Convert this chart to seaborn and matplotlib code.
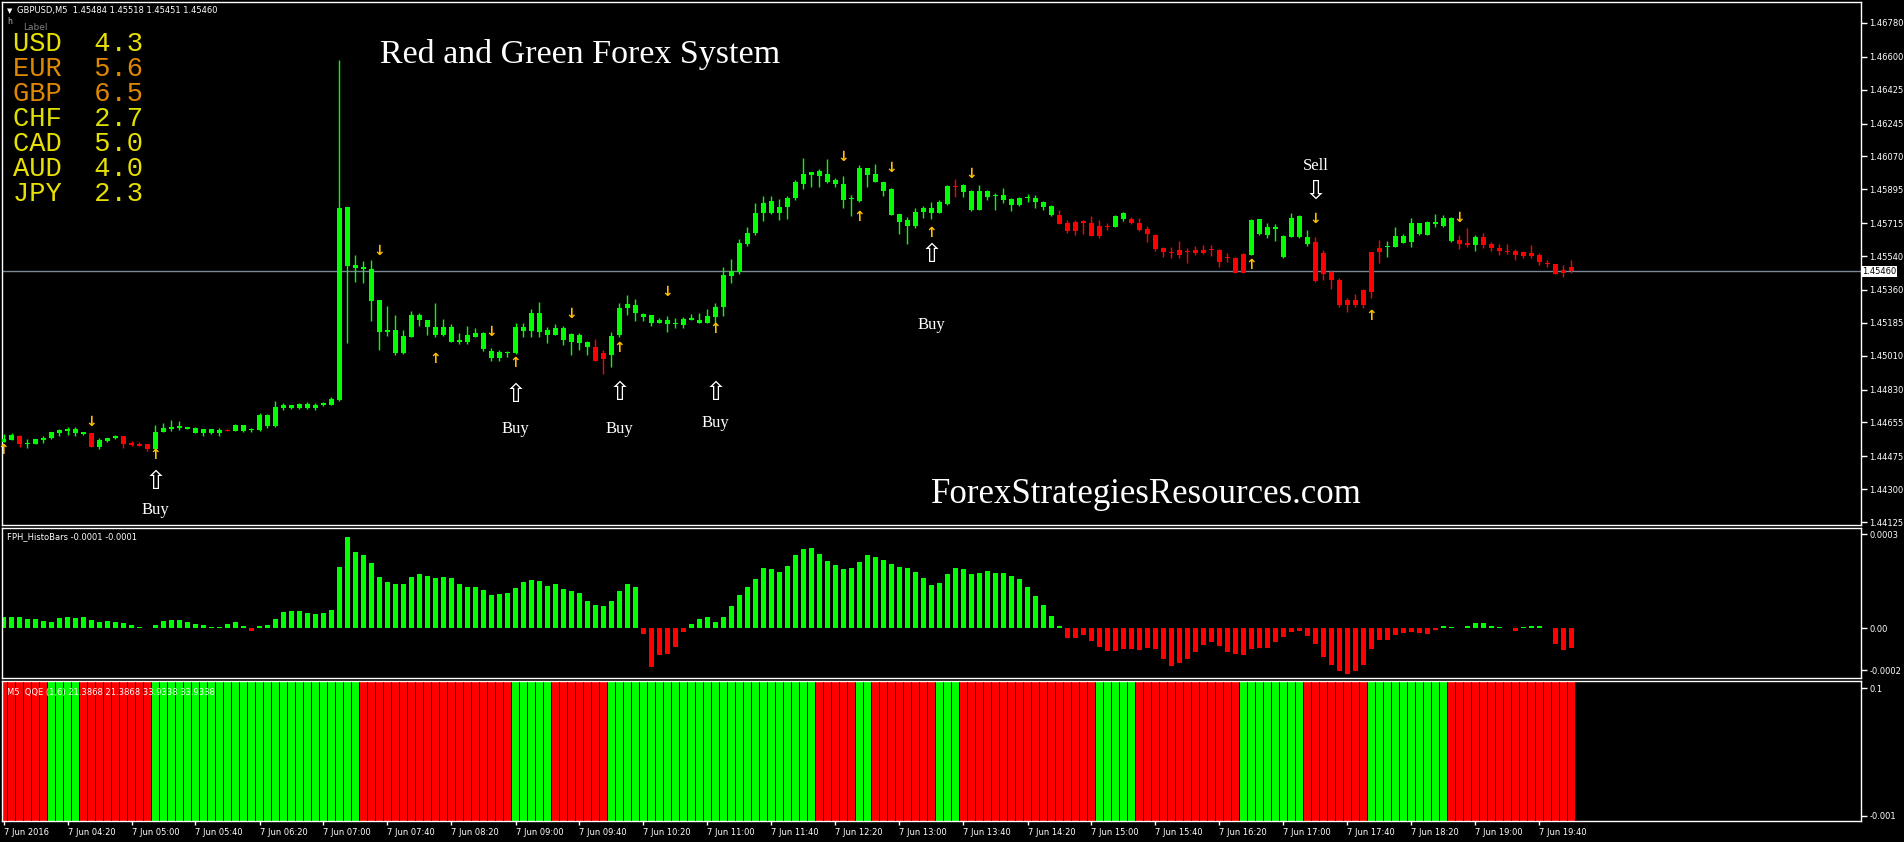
import numpy as np
import pandas as pd
import matplotlib
matplotlib.use("Agg")
import matplotlib.pyplot as plt
import matplotlib.transforms as mtransforms
import seaborn as sns

# ---------------- data (GBPUSD M5, 7 Jun 2016, bar 0 = 03:40) ----------------
opens = [
    1.44553, 1.44563, 1.44585, 1.44540, 1.44542, 1.44563, 1.44570, 1.44599, 1.44611, 1.44600,
    1.44595, 1.44599, 1.44526, 1.44556, 1.44570, 1.44583, 1.44547, 1.44540, 1.44540, 1.44514,
    1.44604, 1.44622, 1.44623, 1.44620, 1.44600, 1.44600, 1.44597, 1.44600, 1.44617, 1.44611,
    1.44608, 1.44617, 1.44617, 1.44638, 1.44638, 1.44730, 1.44734, 1.44732, 1.44732, 1.44732,
    1.44746, 1.44748, 1.44775, 1.45799, 1.45493, 1.45484, 1.45472, 1.45307, 1.45138, 1.45147,
    1.45023, 1.45111, 1.45225, 1.45200, 1.45165, 1.45120, 1.45165, 1.45085, 1.45085, 1.45107,
    1.45129, 1.45037, 1.44997, 1.45023, 1.45023, 1.45142, 1.45142, 1.45236, 1.45120, 1.45120,
    1.45156, 1.45125, 1.45120, 1.45085, 1.45055, 1.45023, 1.45014, 1.45120, 1.45262, 1.45280,
    1.45232, 1.45227, 1.45186, 1.45200, 1.45179, 1.45174, 1.45200, 1.45186, 1.45182, 1.45214,
    1.45271, 1.45436, 1.45457, 1.45604, 1.45661, 1.45768, 1.45771, 1.45803, 1.45799, 1.45849,
    1.45924, 1.45971, 1.45966, 1.45977, 1.45945, 1.45924, 1.45843, 1.45835, 1.45971, 1.45977,
    1.45932, 1.45897, 1.45764, 1.45702, 1.45700, 1.45777, 1.45771, 1.45771, 1.45817, 1.45913,
    1.45883, 1.45887, 1.45785, 1.45887, 1.45860, 1.45866, 1.45843, 1.45812, 1.45848, 1.45848,
    1.45825, 1.45807, 1.45759, 1.45714, 1.45674, 1.45729, 1.45714, 1.45647, 1.45697, 1.45697,
    1.45736, 1.45736, 1.45714, 1.45683, 1.45652, 1.45581, 1.45563, 1.45572, 1.45568, 1.45572,
    1.45554, 1.45571, 1.45572, 1.45537, 1.45531, 1.45452, 1.45546, 1.45658, 1.45693, 1.45683,
    1.45533, 1.45640, 1.45640, 1.45639, 1.45614, 1.45558, 1.45457, 1.45413, 1.45277, 1.45307,
    1.45280, 1.45351, 1.45563, 1.45587, 1.45590, 1.45612, 1.45617, 1.45656, 1.45653, 1.45711,
    1.45702, 1.45743, 1.45625, 1.45612, 1.45599, 1.45641, 1.45604, 1.45585, 1.45564, 1.45567,
    1.45564, 1.45558, 1.45546, 1.45505, 1.45498, 1.45466, 1.45484,
]
highs = [
    1.44594, 1.44600, 1.44588, 1.44567, 1.44569, 1.44581, 1.44606, 1.44622, 1.44629, 1.44632,
    1.44606, 1.44600, 1.44570, 1.44574, 1.44588, 1.44585, 1.44554, 1.44549, 1.44542, 1.44641,
    1.44652, 1.44668, 1.44663, 1.44632, 1.44632, 1.44622, 1.44622, 1.44623, 1.44620, 1.44645,
    1.44643, 1.44623, 1.44703, 1.44702, 1.44769, 1.44759, 1.44748, 1.44759, 1.44764, 1.44759,
    1.44764, 1.44790, 1.46583, 1.45803, 1.45546, 1.45516, 1.45520, 1.45307, 1.45275, 1.45227,
    1.45147, 1.45248, 1.45236, 1.45200, 1.45289, 1.45204, 1.45180, 1.45129, 1.45170, 1.45156,
    1.45134, 1.45050, 1.45041, 1.45037, 1.45183, 1.45183, 1.45257, 1.45293, 1.45161, 1.45180,
    1.45170, 1.45132, 1.45132, 1.45089, 1.45098, 1.45041, 1.45134, 1.45289, 1.45333, 1.45311,
    1.45236, 1.45227, 1.45211, 1.45223, 1.45209, 1.45218, 1.45232, 1.45236, 1.45257, 1.45289,
    1.45480, 1.45523, 1.45629, 1.45697, 1.45821, 1.45860, 1.45860, 1.45842, 1.45860, 1.45946,
    1.46060, 1.45989, 1.46002, 1.46055, 1.45954, 1.45966, 1.45866, 1.46025, 1.46011, 1.46030,
    1.45936, 1.45901, 1.45764, 1.45746, 1.45794, 1.45807, 1.45830, 1.45839, 1.45918, 1.45950,
    1.45924, 1.45892, 1.45918, 1.45892, 1.45874, 1.45901, 1.45848, 1.45856, 1.45871, 1.45866,
    1.45835, 1.45812, 1.45785, 1.45732, 1.45732, 1.45732, 1.45753, 1.45732, 1.45714, 1.45759,
    1.45777, 1.45746, 1.45741, 1.45700, 1.45658, 1.45590, 1.45590, 1.45621, 1.45581, 1.45594,
    1.45599, 1.45599, 1.45576, 1.45555, 1.45537, 1.45558, 1.45736, 1.45736, 1.45714, 1.45711,
    1.45653, 1.45768, 1.45756, 1.45680, 1.45644, 1.45572, 1.45466, 1.45422, 1.45316, 1.45338,
    1.45363, 1.45563, 1.45626, 1.45622, 1.45693, 1.45658, 1.45741, 1.45718, 1.45727, 1.45764,
    1.45759, 1.45746, 1.45653, 1.45691, 1.45653, 1.45665, 1.45617, 1.45605, 1.45605, 1.45578,
    1.45569, 1.45599, 1.45555, 1.45520, 1.45498, 1.45493, 1.45518,
]
lows = [
    1.44549, 1.44562, 1.44524, 1.44521, 1.44540, 1.44547, 1.44567, 1.44585, 1.44590, 1.44585,
    1.44590, 1.44522, 1.44515, 1.44551, 1.44567, 1.44521, 1.44530, 1.44530, 1.44505, 1.44512,
    1.44602, 1.44609, 1.44617, 1.44618, 1.44599, 1.44585, 1.44595, 1.44585, 1.44608, 1.44609,
    1.44604, 1.44604, 1.44611, 1.44627, 1.44632, 1.44721, 1.44728, 1.44727, 1.44727, 1.44721,
    1.44743, 1.44745, 1.44770, 1.45076, 1.45404, 1.45395, 1.45197, 1.45041, 1.45115, 1.45014,
    1.45019, 1.45111, 1.45170, 1.45120, 1.45110, 1.45115, 1.45085, 1.45073, 1.45073, 1.45107,
    1.45037, 1.44984, 1.44984, 1.45002, 1.45019, 1.45107, 1.45107, 1.45107, 1.45080, 1.45120,
    1.45068, 1.45014, 1.45041, 1.45014, 1.44979, 1.44912, 1.44952, 1.45111, 1.45227, 1.45192,
    1.45192, 1.45168, 1.45182, 1.45138, 1.45156, 1.45156, 1.45200, 1.45182, 1.45182, 1.45170,
    1.45221, 1.45395, 1.45442, 1.45594, 1.45652, 1.45727, 1.45764, 1.45732, 1.45737, 1.45839,
    1.45895, 1.45906, 1.45910, 1.45927, 1.45906, 1.45794, 1.45753, 1.45830, 1.45910, 1.45932,
    1.45862, 1.45759, 1.45658, 1.45605, 1.45688, 1.45741, 1.45736, 1.45768, 1.45812, 1.45856,
    1.45856, 1.45780, 1.45785, 1.45839, 1.45785, 1.45821, 1.45780, 1.45807, 1.45825, 1.45794,
    1.45785, 1.45755, 1.45711, 1.45665, 1.45653, 1.45658, 1.45647, 1.45635, 1.45679, 1.45693,
    1.45729, 1.45711, 1.45675, 1.45617, 1.45568, 1.45534, 1.45528, 1.45528, 1.45502, 1.45546,
    1.45551, 1.45542, 1.45484, 1.45510, 1.45448, 1.45448, 1.45546, 1.45653, 1.45635, 1.45622,
    1.45529, 1.45640, 1.45635, 1.45591, 1.45404, 1.45413, 1.45363, 1.45271, 1.45240, 1.45271,
    1.45263, 1.45316, 1.45502, 1.45533, 1.45587, 1.45612, 1.45587, 1.45653, 1.45653, 1.45697,
    1.45697, 1.45617, 1.45578, 1.45590, 1.45569, 1.45585, 1.45569, 1.45546, 1.45550, 1.45521,
    1.45530, 1.45530, 1.45493, 1.45484, 1.45445, 1.45431, 1.45451,
]
closes = [
    1.44567, 1.44588, 1.44540, 1.44545, 1.44567, 1.44574, 1.44604, 1.44617, 1.44622, 1.44622,
    1.44604, 1.44526, 1.44563, 1.44572, 1.44585, 1.44542, 1.44537, 1.44531, 1.44514, 1.44604,
    1.44625, 1.44632, 1.44638, 1.44631, 1.44625, 1.44620, 1.44620, 1.44617, 1.44611, 1.44641,
    1.44641, 1.44622, 1.44695, 1.44695, 1.44737, 1.44748, 1.44746, 1.44753, 1.44753, 1.44748,
    1.44757, 1.44780, 1.45796, 1.45489, 1.45479, 1.45470, 1.45303, 1.45138, 1.45147, 1.45023,
    1.45115, 1.45225, 1.45200, 1.45165, 1.45120, 1.45165, 1.45085, 1.45094, 1.45120, 1.45129,
    1.45044, 1.44997, 1.45032, 1.45032, 1.45161, 1.45161, 1.45236, 1.45138, 1.45147, 1.45156,
    1.45091, 1.45085, 1.45080, 1.45055, 1.44984, 1.44991, 1.45116, 1.45262, 1.45285, 1.45236,
    1.45218, 1.45186, 1.45200, 1.45179, 1.45186, 1.45204, 1.45209, 1.45200, 1.45221, 1.45271,
    1.45440, 1.45462, 1.45608, 1.45661, 1.45768, 1.45821, 1.45833, 1.45771, 1.45849, 1.45934,
    1.45977, 1.45989, 1.45995, 1.45932, 1.45924, 1.45839, 1.45850, 1.46007, 1.46011, 1.45932,
    1.45888, 1.45759, 1.45723, 1.45732, 1.45773, 1.45794, 1.45794, 1.45830, 1.45913, 1.45906,
    1.45918, 1.45785, 1.45887, 1.45856, 1.45866, 1.45839, 1.45812, 1.45848, 1.45853, 1.45825,
    1.45803, 1.45759, 1.45711, 1.45674, 1.45723, 1.45714, 1.45647, 1.45700, 1.45700, 1.45753,
    1.45768, 1.45714, 1.45679, 1.45656, 1.45575, 1.45563, 1.45554, 1.45545, 1.45563, 1.45554,
    1.45572, 1.45580, 1.45510, 1.45528, 1.45452, 1.45551, 1.45732, 1.45736, 1.45653, 1.45697,
    1.45649, 1.45745, 1.45751, 1.45603, 1.45408, 1.45445, 1.45410, 1.45280, 1.45304, 1.45277,
    1.45360, 1.45563, 1.45585, 1.45594, 1.45647, 1.45647, 1.45714, 1.45714, 1.45722, 1.45722,
    1.45743, 1.45620, 1.45605, 1.45599, 1.45641, 1.45599, 1.45585, 1.45569, 1.45560, 1.45546,
    1.45541, 1.45541, 1.45511, 1.45497, 1.45445, 1.45452, 1.45460,
]
# candle colour from the Red/Green trend filter
candle_trend = list(
    "GGRGGGGGGG" "GRGGGRRRRG" "GGGGGGGGRG" "GGGGGGGGGG" "GGGGGGGGGG"
    "GGGGGGGGGG" "GGGGGGGGGG" "GGGGRRGGGG" "GGGGGGGGGG" "GGGGGGGGGG"
    "GGGGGGGGGG" "GGGGGGGGGR" "GGGGGGGGGG" "GGRRRRRRRG" "GRRRRRRRRR"
    "RRRRRRGGGG" "GGGGRRRRRR" "RRRGGGGGGG" "GGRRGRRRRR" "RRRRRRR"
)
# FPH_HistoBars values in millionths
hist_micro = [
    32, 32, 32, 26, 26, 20, 17, 29, 32, 29,
    32, 23, 17, 20, 17, 14, 8, 2, 1, 8,
    20, 23, 23, 17, 11, 8, 2, 2, 11, 17,
    5, -10, 5, 8, 26, 47, 50, 50, 44, 41,
    44, 53, 182, 272, 227, 218, 194, 152, 137, 131,
    131, 152, 161, 155, 149, 152, 149, 131, 122, 122,
    113, 98, 101, 104, 119, 137, 143, 140, 125, 131,
    116, 110, 104, 80, 68, 65, 80, 110, 131, 122,
    -18, -117, -82, -78, -58, -11, 12, 27, 33, 18,
    33, 66, 99, 123, 147, 180, 177, 168, 186, 219,
    237, 240, 222, 201, 189, 177, 180, 198, 219, 213,
    204, 192, 183, 180, 168, 150, 129, 135, 162, 180,
    177, 162, 165, 171, 165, 165, 156, 147, 123, 96,
    69, 36, 6, -30, -30, -21, -39, -57, -69, -69,
    -63, -63, -66, -60, -63, -93, -114, -105, -93, -72,
    -51, -42, -54, -72, -78, -81, -63, -60, -60, -42,
    -27, -12, -9, -24, -48, -87, -111, -129, -138, -129,
    -111, -63, -36, -36, -21, -15, -12, -15, -18, -6,
    6, 2, 0, 6, 15, 15, 6, 2, 1, -9,
    2, 6, 6, 1, -48, -66, -60,
]
# QQE state per bar
qqe_state = list(
    "RRRRRRGGGG" "RRRRRRRRRG" "GGGGGGGGGG" "GGGGGGGGGG" "GGGGGRRRRR"
    "RRRRRRRRRR" "RRRRGGGGGR" "RRRRRRGGGG" "GGGGGGGGGG" "GGGGGGGGGG"
    "GGRRRRRGGR" "RRRRRRRGGG" "RRRRRRRRRR" "RRRRRRRGGG" "GGRRRRRRRR"
    "RRRRRGGGGG" "GGGRRRRRRR" "RGGGGGGGGG" "GRRRRRRRRR" "RRRRRRR"
)
time_label_bars = [0, 8, 16, 24, 32, 40, 48, 56, 64, 72, 80, 88, 96, 104, 112,
                   120, 128, 136, 144, 152, 160, 168, 176, 184, 192]
time_labels = ["7 Jun 2016", "7 Jun 04:20", "7 Jun 05:00", "7 Jun 05:40", "7 Jun 06:20",
               "7 Jun 07:00", "7 Jun 07:40", "7 Jun 08:20", "7 Jun 09:00", "7 Jun 09:40",
               "7 Jun 10:20", "7 Jun 11:00", "7 Jun 11:40", "7 Jun 12:20", "7 Jun 13:00",
               "7 Jun 13:40", "7 Jun 14:20", "7 Jun 15:00", "7 Jun 15:40", "7 Jun 16:20",
               "7 Jun 17:00", "7 Jun 17:40", "7 Jun 18:20", "7 Jun 19:00", "7 Jun 19:40"]
price_ticks = [1.46780, 1.46600, 1.46425, 1.46245, 1.46070, 1.45895, 1.45715, 1.45540,
               1.45360, 1.45185, 1.45010, 1.44830, 1.44655, 1.44475, 1.44300, 1.44125]
last_price = 1.45460

# small signal arrows
up_sig_bars = [0, 19, 54, 64, 77, 89, 107, 116, 156, 171]
up_sig_price = [1.44508, 1.44482, 1.44993, 1.44970, 1.45050, 1.45150, 1.45746, 1.45665, 1.45495, 1.45222]
dn_sig_bars = [11, 47, 61, 71, 83, 105, 111, 121, 164, 182]
dn_sig_price = [1.44657, 1.45569, 1.45134, 1.45231, 1.45348, 1.46069, 1.46007, 1.45978, 1.45739, 1.45743]
# Buy / Sell annotations
buy_bars = [19, 64, 77, 89, 116]
buy_arrow_price = [1.44338, 1.44801, 1.44812, 1.44812, 1.45546]
buy_text_price = [1.44189, 1.44620, 1.44620, 1.44652, 1.45173]
sell_bars = [164]
sell_arrow_price = [1.45881]
sell_text_price = [1.46019]

currencies = ["USD", "EUR", "GBP", "CHF", "CAD", "AUD", "JPY"]
strength = [4.3, 5.6, 6.5, 2.7, 5.0, 4.0, 2.3]
currency_colors = ["#E8E000", "#E08800", "#E08800", "#E0E000", "#E8E000", "#E8E000", "#E8E000"]

# ---------------- style ----------------
sns.set_theme(style="dark")
plt.rcParams.update({
    "figure.facecolor": "black", "axes.facecolor": "black", "savefig.facecolor": "black",
    "axes.edgecolor": "white", "text.color": "white", "xtick.color": "white",
    "ytick.color": "white", "axes.grid": False, "axes.unicode_minus": False,
})
plt.rcParams["font.family"] = ["DejaVu Sans"]

GREEN, RED = "#00FF00", "#FF0000"
W, H, DPI = 1904, 842, 100
fig = plt.figure(figsize=(W / DPI, H / DPI), dpi=DPI)


def rect(x0, y0, x1, y1):
    return [x0 / W, 1 - y1 / H, (x1 - x0) / W, (y1 - y0) / H]


def ftext(x, y, s, **kw):
    fig.text(x / W, 1 - y / H, s, **kw)


ax = fig.add_axes(rect(2, 2, 1861, 525))
axh = fig.add_axes(rect(2, 528, 1861, 678))
axq = fig.add_axes(rect(2, 681, 1861, 821))
XL = (-0.1875, 232.1875)

n = len(opens)
xs = np.arange(n)
o = np.array(opens); c = np.array(closes); hi = np.array(highs); lo = np.array(lows)
ccol = [GREEN if t == "G" else RED for t in candle_trend]

# ---------------- main price panel ----------------
ax.axhline(last_price, color="#7A8796", lw=1, zorder=1)
ax.vlines(xs, lo, hi, colors=ccol, lw=1, zorder=2)
body_lo = np.minimum(o, c)
body_h = np.maximum(np.abs(c - o), 0.00005)
ax.bar(xs, body_h, bottom=body_lo, width=0.625, color=ccol, linewidth=0, zorder=3)

for b, p in zip(up_sig_bars, up_sig_price):
    ax.text(b, p, "\u2191", color="#FFBE00", fontsize=10, fontweight="bold",
            ha="center", va="center", zorder=4)
for b, p in zip(dn_sig_bars, dn_sig_price):
    ax.text(b, p, "\u2193", color="#FFBE00", fontsize=10, fontweight="bold",
            ha="center", va="center", zorder=4)
for b, pa, pt in zip(buy_bars, buy_arrow_price, buy_text_price):
    ax.text(b, pa, "\u21E7", color="white", fontsize=19, ha="center", va="center", zorder=4)
    ax.text(b, pt, "Buy", color="white", fontsize=12, family="Liberation Serif",
            ha="center", va="center", zorder=4)
for b, pa, pt in zip(sell_bars, sell_arrow_price, sell_text_price):
    ax.text(b, pa, "\u21E9", color="white", fontsize=19, ha="center", va="center", zorder=4)
    ax.text(b, pt, "Sell", color="white", fontsize=12, family="Liberation Serif",
            ha="center", va="center", zorder=4)

ax.set_xlim(*XL)
ax.set_ylim(1.441091, 1.468917)
ax.set_xticks([])
ax.yaxis.tick_right()
ax.set_yticks(price_ticks)
ax.set_yticklabels([f"{p:.5f}" for p in price_ticks])
trans = mtransforms.blended_transform_factory(ax.transAxes, ax.transData)
ax.text(1.0006, last_price, f"{last_price:.5f}", transform=trans, color="black",
        fontsize=6, ha="left", va="center",
        bbox=dict(facecolor="white", edgecolor="none", pad=0.8), zorder=6, clip_on=False)

# ---------------- histogram panel (seaborn) ----------------
hist_df = pd.DataFrame({
    "bar": xs,
    "value": np.array(hist_micro) * 1e-6,
    "sign": ["up" if v >= 0 else "down" for v in hist_micro],
})
sns.barplot(data=hist_df, x="bar", y="value", hue="sign",
            palette={"up": GREEN, "down": RED}, native_scale=True, width=0.68,
            dodge=False, legend=False, saturation=1, errorbar=None,
            linewidth=0, edgecolor="none", ax=axh)
axh.set_xlim(*XL)
axh.set_ylim(-150e-6, 300e-6)
axh.set_xticks([])
axh.set_xlabel(""); axh.set_ylabel("")
axh.yaxis.tick_right()
axh.set_yticks([282e-6, 0, -126e-6])
axh.set_yticklabels(["0.0003", "0.00", "-0.0002"])

# ---------------- QQE panel (seaborn) ----------------
qqe_df = pd.DataFrame({"bar": xs, "level": [0.1] * n, "state": qqe_state})
sns.barplot(data=qqe_df, x="bar", y="level", hue="state",
            palette={"G": GREEN, "R": RED}, native_scale=True, width=0.875,
            dodge=False, legend=False, saturation=1, errorbar=None,
            linewidth=0, edgecolor="none", ax=axq)
axq.set_xlim(*XL)
axq.set_ylim(0, 0.1)
axq.set_xlabel(""); axq.set_ylabel("")
axq.yaxis.tick_right()
axq.set_yticks([0.095, 0.0036])
axq.set_yticklabels(["0.1", "-0.001"])
axq.set_xticks(time_label_bars)
axq.set_xticklabels(time_labels, ha="left")
off = mtransforms.ScaledTranslation(2 / DPI, 0, fig.dpi_scale_trans)
for lab in axq.get_xticklabels():
    lab.set_transform(lab.get_transform() + off)

for a in (ax, axh, axq):
    for s in a.spines.values():
        s.set_color("white"); s.set_linewidth(1)
    a.tick_params(axis="y", which="both", right=True, left=False, direction="out",
                  length=4, width=1, colors="white", labelsize=6, pad=2)
    a.set_facecolor("black")
axq.tick_params(axis="x", direction="out", length=3, width=1, colors="white",
                labelsize=6, pad=2, bottom=True)

# ---------------- overlay texts ----------------
ftext(7, 11, "\u25BC", fontsize=5, color="white", ha="left", va="center")
ftext(17, 11, "GBPUSD,M5  1.45484 1.45518 1.45451 1.45460", fontsize=6,
      color="white", ha="left", va="center")
ftext(7, 21, "h", fontsize=5.5, color="#C0C0C0", ha="left", va="center")
ftext(23, 27, "Label", fontsize=6.5, color="#808080", ha="left", va="center")
for i, (cur, v, col) in enumerate(zip(currencies, strength, currency_colors)):
    ftext(13, 44 + 25 * i, f"{cur}  {v:.1f}", fontsize=19.5, color=col,
          family="Liberation Mono", ha="left", va="center")
ftext(580, 63, "Red and Green Forex System", fontsize=24.5, color="white",
      family="Liberation Serif", ha="center", va="baseline")
ftext(1146, 503, "ForexStrategiesResources.com", fontsize=25, color="white",
      family="Liberation Serif", ha="center", va="baseline")
ftext(7, 537, "FPH_HistoBars -0.0001 -0.0001", fontsize=6, color="white",
      ha="left", va="center")
ftext(7, 692, "M5  QQE (1,6) 21.3868 21.3868 33.9338 33.9338", fontsize=6,
      color="white", ha="left", va="center")

fig.savefig("out.png", dpi=DPI, facecolor="black")
